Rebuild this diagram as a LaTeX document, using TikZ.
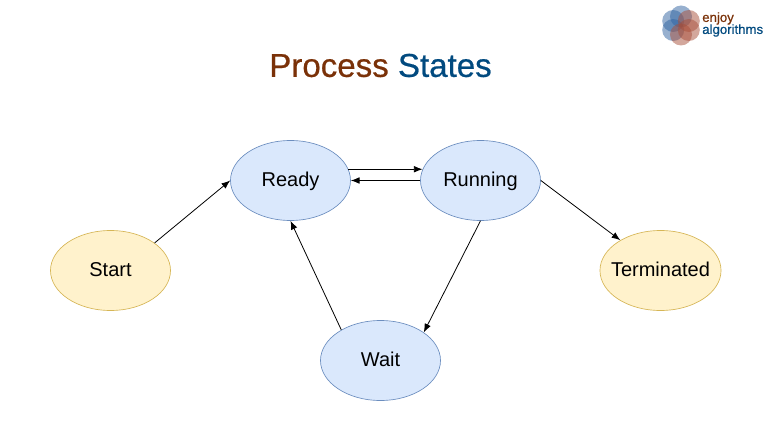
\documentclass[tikz,border=0pt]{standalone}
\usepackage{fontspec}
\setmainfont{Liberation Sans}
\newfontfamily\titlefont[FakeBold=0.6]{Liberation Sans}
\usepackage{xcolor}
\usetikzlibrary{shapes.geometric, arrows.meta, calc}
\definecolor{readyfill}{HTML}{DAE8FC}
\definecolor{readyline}{HTML}{6C8EBF}
\definecolor{startfill}{HTML}{FFF2CC}
\definecolor{startline}{HTML}{D6B656}
\definecolor{titlebrown}{HTML}{7A3108}
\definecolor{titleblue}{HTML}{014A7F}
\definecolor{logored}{HTML}{A84F3A}
\definecolor{logoblue}{HTML}{2F62A0}

\begin{document}
\begin{tikzpicture}[x=0.75pt, y=-0.75pt,
    statenode/.style={ellipse, draw, line width=0.5pt, minimum width=90pt, minimum height=60pt, inner sep=-5pt, text height=12pt, text depth=3pt, font=\fontsize{15}{18}\selectfont},
    bluestate/.style={statenode, fill=readyfill, draw=readyline},
    yellowstate/.style={statenode, fill=startfill, draw=startline},
    arrowline/.style={-{Latex[length=6.5pt,width=5pt]}, line width=0.6pt, black},
    logopetal/.style={opacity=0.5, draw=none}]

  \useasboundingbox (0,0) rectangle (771,431);

  % Заголовок
  \node (title) at (380.5,65.5) {\fontsize{24.8}{30}\titlefont\textcolor{titlebrown}{Process} \textcolor{titleblue}{States}};

  % Состояния
  \node[bluestate] (ready) at (290.5,180.5) {Ready};
  \node[bluestate] (running) at (480.5,180.5) {Running};
  \node[bluestate] (wait) at (380.5,360.5) {Wait};
  \node[yellowstate] (start) at (110.5,270.5) {Start};
  \node[yellowstate] (terminated) at (660.5,270.5) {Terminated};

  % Переходы
  \draw[arrowline] (start.32) -- (ready.west);
  \draw[arrowline] (ready.11) -- (running.169);
  \draw[arrowline] (running.west) -- (ready.east);
  \draw[arrowline] (running.east) -- (terminated.143);
  \draw[arrowline] (running.south) -- (wait.33);
  \draw[arrowline] (wait.142) -- (ready.south);

  % Логотип
  \foreach \petalangle/\petalcolor in {150/logoblue, 210/logoblue, 270/logoblue, 90/logored, 30/logored, 330/logored}
    \fill[logopetal, \petalcolor] ($(681,25.5)+(\petalangle:9)$) circle (11);
  \node[anchor=west, inner sep=0pt, text=titlebrown] (logotop) at (702,18.5) {\fontsize{9.9}{11}\titlefont enjoy};
  \node[anchor=west, inner sep=0pt, text=titleblue] (logobottom) at (702,30.5) {\fontsize{9.9}{11}\titlefont algorithms};
\end{tikzpicture}
\end{document}
